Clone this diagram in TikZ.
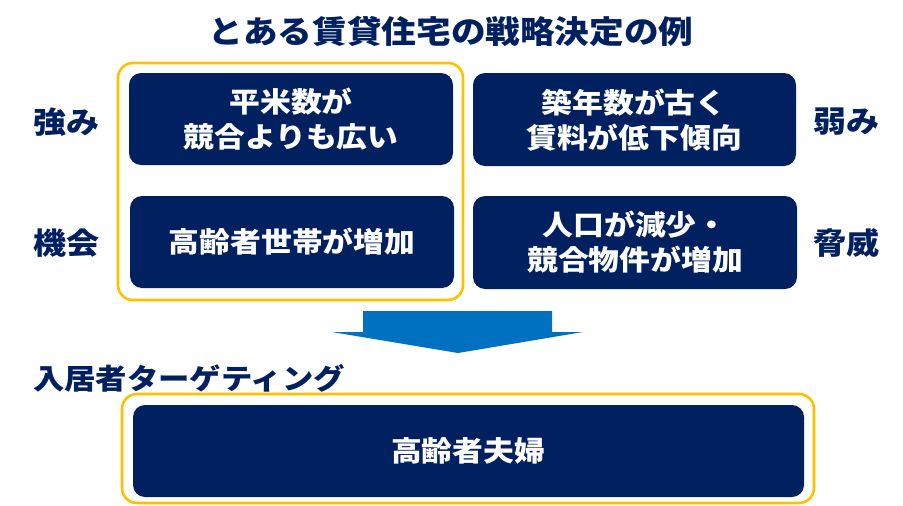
\documentclass[tikz,border=0pt]{standalone}
\usepackage{fontspec}
\setmainfont{Noto Sans CJK JP}[FakeStretch=1.1]
\definecolor{navy}{HTML}{002060}
\definecolor{arrowblue}{HTML}{0070C0}
\definecolor{frameyellow}{HTML}{FFC000}
\begin{document}
\begin{tikzpicture}[x=1pt,y=-1pt,
  darkbox/.style={fill=navy,rounded corners=12pt,text=white,font=\fontsize{28}{35}\selectfont\bfseries,align=center,inner sep=0pt},
  yframe/.style={draw=frameyellow,line width=2.6pt,rounded corners=15pt},
  sidelabel/.style={text=navy,font=\fontsize{30}{35}\selectfont\bfseries,inner sep=0pt},
  titlelabel/.style={text=navy,font=\fontsize{31.5}{36}\selectfont\bfseries,inner sep=0pt},
  targetlabel/.style={text=navy,font=\fontsize{28.5}{36}\selectfont\bfseries,inner sep=0pt}]
\useasboundingbox (0,0) rectangle (903,506);
% title
\node[titlelabel] (title) at (451,31) {とある賃貸住宅の戦略決定の例};
% yellow frame left column
\draw[yframe] (118,63) rectangle (463,300);
% boxes
\path[darkbox] (129,73) rectangle (453,165);
\node[darkbox,fill=none] (s) at (291,119) {平米数が\\競合よりも広い};
\path[darkbox] (130,196) rectangle (454,288);
\node[darkbox,fill=none] (o) at (292,242) {高齢者世帯が増加};
\path[darkbox] (473,73) rectangle (796,166);
\node[darkbox,fill=none] (w) at (634,120) {築年数が古く\\賃料が低下傾向};
\path[darkbox] (473,196) rectangle (797,289);
\node[darkbox,fill=none] (t) at (635,242) {人口が減少・\\競合物件が増加};
% side labels
\node[sidelabel] (ls) at (66,122) {強み};
\node[sidelabel] (lo) at (66,243) {機会};
\node[sidelabel] (lw) at (846,122) {弱み};
\node[sidelabel] (lt) at (846,243) {脅威};
% arrow
\fill[arrowblue] (363,311) -- (552,311) -- (552,332) -- (583,332) -- (458,353) -- (332,332) -- (363,332) -- cycle;
% targeting
\node[targetlabel,anchor=west] (tg) at (33,378) {入居者ターゲティング};
\draw[yframe] (122,394) rectangle (814,503);
\path[darkbox] (133,405) rectangle (804,497);
\node[darkbox,fill=none] (res) at (468,451) {高齢者夫婦};
\end{tikzpicture}
\end{document}
